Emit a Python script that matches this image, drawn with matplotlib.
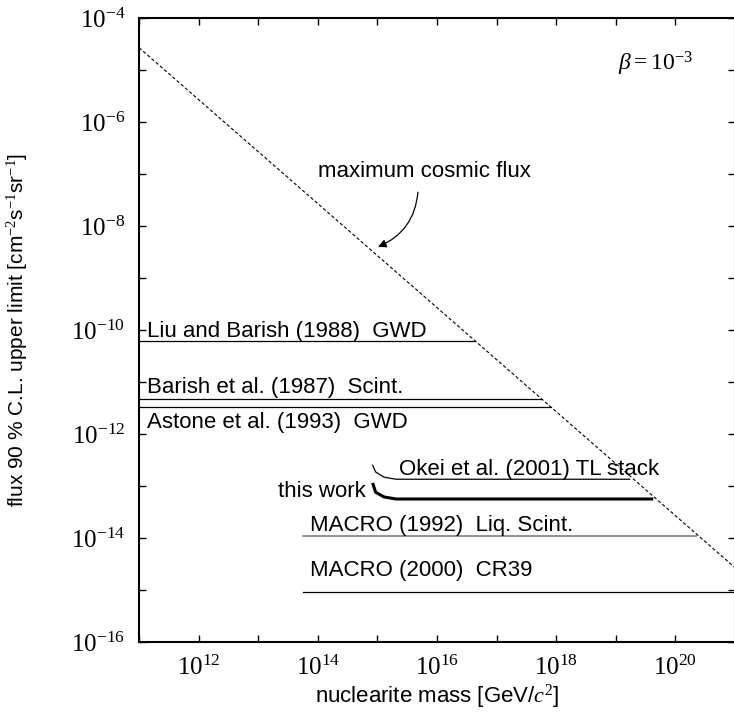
import matplotlib
matplotlib.use('Agg')
import matplotlib.pyplot as plt
from matplotlib.ticker import FixedLocator, FuncFormatter, NullLocator
import numpy as np

plt.rcParams.update({'font.family': 'Liberation Sans',
                     'mathtext.fontset': 'custom',
                     'mathtext.rm': 'Liberation Serif',
                     'mathtext.it': 'Liberation Serif:italic',
                     'font.size': 16})

# axis range (log10)
xlim_log = (11, 21)
ylim_log = (-16, -4)

# maximum cosmic flux: flux = 10**c_log / M
c_log = 6.43

# horizontal limits: (log10 mass start, log10 mass end, log10 flux)
liu_x = [11, 16.64]
liu_y = -10.21
barish_x = [11, 17.76]
barish_y = -11.33
astone_x = [11, 17.92]
astone_y = -11.49
macro92_x = [13.75, 20.35]
macro92_y = -13.96
macro00_x = [13.75, 21]
macro00_y = -15.03

# curves with hook on the left end (log10 values)
okei_x = [14.92, 14.97, 15.11, 15.31, 19.23]
okei_y = [-12.60, -12.73, -12.83, -12.87, -12.87]
work_x = [14.92, 14.97, 15.11, 15.31, 19.63]
work_y = [-12.94, -13.12, -13.21, -13.25, -13.25]

fig = plt.figure(figsize=(7.34, 7.15), dpi=100)
ax = fig.add_axes([139 / 734, 1 - 642 / 715, 596 / 734, 624 / 715])
ax.set_xscale('log')
ax.set_yscale('log')
ax.set_xlim(10.0 ** xlim_log[0], 10.0 ** xlim_log[1])
ax.set_ylim(10.0 ** ylim_log[0], 10.0 ** ylim_log[1])

# diagonal
mx = np.array(xlim_log, dtype=float)
ax.plot(10 ** mx, 10 ** (c_log - mx), color='black', lw=0.8,
        dashes=(3, 2))

thin = dict(color='black', lw=0.9)
ax.plot(10.0 ** np.array(liu_x), [10.0 ** liu_y] * 2, **thin)
ax.plot(10.0 ** np.array(barish_x), [10.0 ** barish_y] * 2, **thin)
ax.plot(10.0 ** np.array(astone_x), [10.0 ** astone_y] * 2, **thin)
ax.plot(10.0 ** np.array(macro92_x), [10.0 ** macro92_y] * 2, color='#808080', lw=1.2)
ax.plot(10.0 ** np.array(macro00_x), [10.0 ** macro00_y] * 2, **thin)
ax.plot(10.0 ** np.array(okei_x), 10.0 ** np.array(okei_y), **thin)
ax.plot(10.0 ** np.array(work_x), 10.0 ** np.array(work_y), color='black', lw=2.2,
        solid_capstyle='butt')

def t(xl, yl, s, **kw):
    ax.text(10.0 ** xl, 10.0 ** yl, s, va='baseline', **kw)

t(11.13, -10.13, 'Liu and Barish (1988)  GWD')
t(11.13, -11.21, 'Barish et al. (1987)  Scint.')
t(11.13, -11.88, 'Astone et al. (1993)  GWD')
t(15.36, -12.79, 'Okei et al. (2001) TL stack')
t(14.81, -13.21, 'this work', ha='right')
t(13.87, -13.86, 'MACRO (1992)  Liq. Scint.')
t(13.87, -14.74, 'MACRO (2000)  CR39')
t(14.01, -7.05, 'maximum cosmic flux')
t(19.03, -5.0, r'$\it{\beta}\rm{=10^{-3}}$', fontsize=17)

ax.annotate('', xy=(10 ** 15.01, 10 ** -8.40), xytext=(10 ** 15.68, 10 ** -7.35),
            arrowprops=dict(arrowstyle='-|>', color='black', lw=0.9,
                            connectionstyle='arc3,rad=-0.3',
                            mutation_scale=12, shrinkA=0, shrinkB=0))

# ticks every decade, labels every second one
ax.xaxis.set_major_locator(FixedLocator(10.0 ** np.arange(11, 22)))
ax.yaxis.set_major_locator(FixedLocator(10.0 ** np.arange(-16, -3)))
ax.xaxis.set_minor_locator(NullLocator())
ax.yaxis.set_minor_locator(NullLocator())

def fmt(v, pos):
    e = int(round(np.log10(v)))
    if e % 2:
        return ''
    return r'$10^{%d}$' % e

ax.xaxis.set_major_formatter(FuncFormatter(fmt))
ax.yaxis.set_major_formatter(FuncFormatter(fmt))
ax.tick_params(which='both', direction='in', top=True, right=True,
               length=5, width=1, labelsize=18)
ax.tick_params(axis='x', pad=10)
ax.tick_params(axis='y', pad=10)
for s in ax.spines.values():
    s.set_linewidth(1.5)

ax.set_xlabel(r'nuclearite mass [GeV/$\it{c}^{2}$]', fontsize=16, labelpad=2)
ax.set_ylabel(r'flux 90 % C.L. upper limit [cm$^{-2}$s$^{-1}$sr$^{-1}$]',
              fontsize=15)
ax.yaxis.set_label_coords(-0.183, 0.5)

fig.savefig('out.png', dpi=100)
